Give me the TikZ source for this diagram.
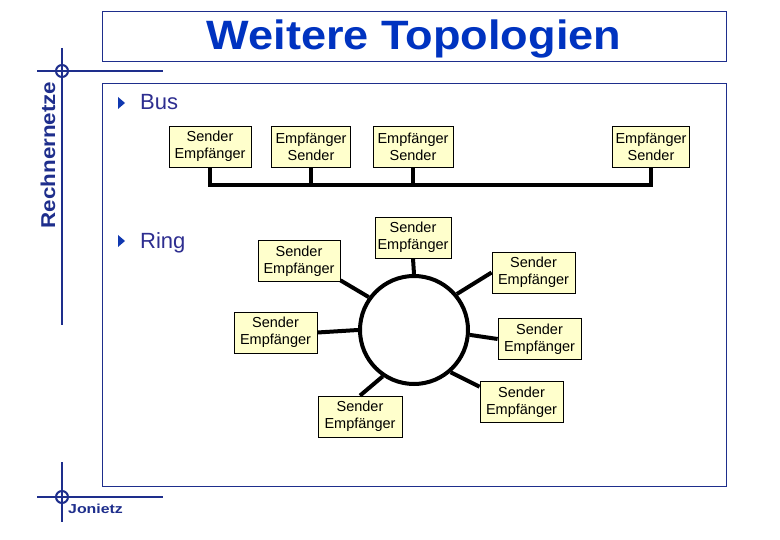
\documentclass[tikz,border=0pt]{standalone}
\usepackage{fontspec}
\setmainfont{Liberation Sans}
\definecolor{frameblue}{HTML}{1E2E8C}
\definecolor{titleblue}{HTML}{0033C0}
\definecolor{textblue}{HTML}{2E2E90}
\definecolor{tribblue}{HTML}{1038B0}
\definecolor{boxyellow}{HTML}{FFFFCC}
\tikzset{
  frame/.style={draw=frameblue, line width=1pt},
  deco/.style={draw=frameblue, line width=2pt},
  station/.style={draw=black, line width=0.8pt, fill=boxyellow, align=center,
    inner sep=0pt, minimum height=41pt, minimum width=82pt,
    font=\fontsize{14.5}{17}\selectfont},
  bus/.style={draw=black, line width=4pt},
  bullet/.style={fill=tribblue},
  heading/.style={text=textblue, font=\fontsize{22}{26}\selectfont, anchor=base west, inner sep=0pt}
}
\begin{document}
\begin{tikzpicture}[x=1pt,y=-1pt]
\useasboundingbox (0,0) rectangle (780,540);
\fill[white] (0,0) rectangle (780,540);
% frames
\draw[frame] (102,12) rectangle (726,62);
\draw[frame] (102,84) rectangle (726,486);
\node[text=titleblue, font=\fontsize{41}{45}\bfseries] (title) at (414,39) {\scalebox{1.1}[1]{Weitere Topologien}};
% decorative crosses
\draw[deco] (62,48) -- (62,325);
\draw[deco] (37,71) -- (163,71);
\draw[deco] (62,71) circle (6);
\draw[deco] (62,462) -- (62,522);
\draw[deco] (37,497) -- (163,497);
\draw[deco] (62,497) circle (6);
\node[rotate=90, text=frameblue, font=\fontsize{20}{22}\bfseries] (side) at (48,155) {\scalebox{1.12}[1]{Rechnernetze}};
\node[text=frameblue, font=\fontsize{13}{15}\bfseries, anchor=base west, inner sep=0pt] (author) at (68,513) {\scalebox{1.22}[1]{Jonietz}};
% bullets
\fill[bullet] (118,97) -- (125,103) -- (118,109) -- cycle;
\node[heading] (bustxt) at (140,110) {Bus};
\fill[bullet] (118,235) -- (125,241) -- (118,247) -- cycle;
\node[heading] (ringtxt) at (140,249) {Ring};
% bus stations
\node[station] (b1) at (210,146.5) {Sender\\Empfänger};
\node[station, minimum width=79pt] (b2) at (311,146.5) {Empfänger\\Sender};
\node[station, minimum width=80pt] (b3) at (413,146.5) {Empfänger\\Sender};
\node[station, minimum width=77pt] (b4) at (651,146.5) {Empfänger\\Sender};
\coordinate (busL) at (210,185);
\draw[bus] (b1.south) -- (busL) -| (b4.south);
\draw[bus] (b2.south) -- (b2.south |- busL);
\draw[bus] (b3.south) -- (b3.south |- busL);
% ring
\node[circle, draw=black, line width=4pt, minimum size=108pt, inner sep=0pt] (ring) at (414,330) {};
\node[station, minimum width=76pt] (r1) at (413,237.5) {Sender\\Empfänger};
\node[station] (r2) at (299,261) {Sender\\Empfänger};
\node[station, minimum width=83pt] (r3) at (533.5,272.5) {Sender\\Empfänger};
\node[station, minimum width=83pt] (r4) at (275.5,332.5) {Sender\\Empfänger};
\node[station, minimum width=83pt] (r5) at (539.5,339) {Sender\\Empfänger};
\node[station, minimum width=83pt] (r6) at (521.5,402) {Sender\\Empfänger};
\node[station, minimum width=84pt] (r7) at (360,416.5) {Sender\\Empfänger};
\draw[bus] (r1.south) -- (ring.north);
\draw[bus] (r2.-25) -- (ring.144);
\draw[bus] (r3.west) -- (ring.40);
\draw[bus] (r4.east) -- (ring.180);
\draw[bus] (ring.-5) -- (r5.west);
\draw[bus] (ring.-49) -- (r6.160);
\draw[bus] (r7.north) -- (ring.-124);
\end{tikzpicture}
\end{document}
